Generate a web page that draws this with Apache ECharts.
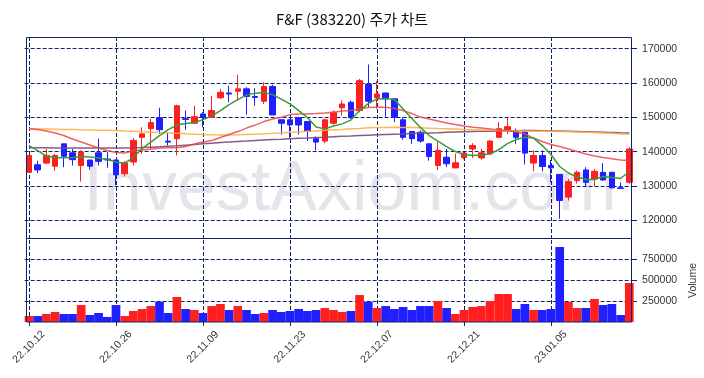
<!DOCTYPE html>
<html>
<head>
<meta charset="utf-8">
<script src="https://cdn.jsdelivr.net/npm/echarts@6/dist/echarts.min.js"></script>
<style>
html, body { margin: 0; padding: 0; background: #fff; }
#chart { width: 704px; height: 378px; }
</style>
</head>
<body>
<div id="chart"></div>
<script>
// 거래일
var dates = ['22.10.12','22.10.13','22.10.14','22.10.17','22.10.18','22.10.19','22.10.20','22.10.21','22.10.24','22.10.25',
    '22.10.26','22.10.27','22.10.28','22.10.31','22.11.01','22.11.02','22.11.03','22.11.04','22.11.07','22.11.08',
    '22.11.09','22.11.10','22.11.11','22.11.14','22.11.15','22.11.16','22.11.17','22.11.18','22.11.21','22.11.22',
    '22.11.23','22.11.24','22.11.25','22.11.28','22.11.29','22.11.30','22.12.01','22.12.02','22.12.05','22.12.06',
    '22.12.07','22.12.08','22.12.09','22.12.12','22.12.13','22.12.14','22.12.15','22.12.16','22.12.19','22.12.20',
    '22.12.21','22.12.22','22.12.23','22.12.26','22.12.27','22.12.28','22.12.29','23.01.02','23.01.03','23.01.04',
    '23.01.05','23.01.06','23.01.09','23.01.10','23.01.11','23.01.12','23.01.13','23.01.16','23.01.17','23.01.18'];
var labelDates = ['22.10.12','22.10.26','22.11.09','22.11.23','22.12.07','22.12.21','23.01.05'];
var priceTicks = [120000, 130000, 140000, 150000, 160000, 170000];
var volTicks = [250000, 500000, 750000];

var openP = [134000,136200,136700,135800,142300,139700,136000,137600,139700,137900,
    137600,133600,137000,144200,146700,149900,143100,143800,149600,148300,
    151000,150000,155700,157100,157600,158300,156100,154700,159000,149300,
    149300,149900,148800,143800,143100,148300,152800,154400,152000,159700,
    155700,157100,155400,149300,145900,145700,142300,136000,138400,135300,
    138300,140800,138200,139400,144200,146400,145700,145700,136700,138900,
    136000,133400,126800,131600,134700,132100,134000,134000,129500,131100];
var closeP = [138900,134700,138900,138900,138700,137700,139900,135800,137200,137600,
    133300,136700,143300,145200,148500,146400,142800,153400,149400,150200,
    150000,152000,157300,156800,158300,156100,155800,159000,150700,148300,
    147800,147800,145900,142800,149300,151500,153900,149900,160700,154700,
    156800,155400,150000,144200,143800,143100,138600,140400,136500,136800,
    139600,141800,139700,143100,146700,147300,144200,139600,138900,135700,
    135300,125800,131300,134000,131100,134300,131800,129500,129300,140800];
var highP = [139000,137400,140800,139400,142300,140800,140400,137600,143800,139900,
    137600,137200,144000,147100,149600,152800,145700,153700,152000,153400,
    151500,156300,158300,159200,162400,158800,158500,160200,159500,149500,
    149600,150200,148800,144400,149600,152000,154900,154900,161200,165400,
    160500,157100,155500,150000,146000,146200,142400,142800,140800,139400,
    140000,142500,140800,143300,148600,149900,146700,146400,140400,140400,
    137600,133400,132100,134500,135500,135000,136700,134200,131100,141300];
var lowP = [134000,133800,136400,134500,135500,136000,131300,134800,136000,135300,
    130200,132800,136000,139400,140800,145200,141800,138900,146400,148100,
    147100,149900,155400,154400,154900,150800,153400,153900,150700,145000,
    143800,145000,143100,140400,142500,147900,150500,149500,151500,152900,
    152500,150200,148600,143500,142300,142600,137400,134700,135500,135300,
    137800,138200,137700,139000,144000,145200,142300,136300,134300,134300,
    131100,120500,125800,130700,129900,129900,131500,129300,129200,130700];
var volume = [71000,71000,95000,119000,95000,95000,202000,83000,107000,60000,
    202000,71000,131000,155000,190000,242000,107000,298000,155000,143000,
    107000,190000,214000,143000,190000,143000,95000,107000,143000,119000,
    131000,155000,131000,143000,167000,143000,119000,131000,321000,242000,
    167000,190000,155000,179000,143000,190000,190000,250000,167000,95000,
    143000,179000,190000,250000,333000,333000,155000,214000,143000,143000,
    155000,893000,238000,167000,167000,274000,202000,214000,83000,464000];

// 이동평균선
var ma5 = [141800,140350,138750,138230,138230,138300,138600,138460,138170,137730,
    137000,136650,138300,140930,142820,144710,146450,147760,148200,148490,
    149360,150380,151980,153720,155170,156480,157060,157210,156630,155320,
    153920,151980,149940,147180,146660,147470,148110,149210,151980,154010,
    155380,155470,155170,152470,149650,147030,144710,143110,141510,140060,
    139190,138900,139040,139390,140640,142380,143550,144210,143980,141800,
    139190,135700,133810,132650,131920,131920,132790,132500,132210,134240];
var ma20 = [146660,146450,146020,145440,144710,143690,142820,141950,141070,140350,
    139770,139620,140260,140490,140700,141070,141130,141130,141510,142240,
    142820,143260,144130,145000,145870,146890,147760,148780,149510,150030,
    150810,151020,151020,151110,151250,151480,151830,151980,152410,152850,
    152940,152940,152560,151980,151110,150090,149510,148920,148340,147910,
    147470,147120,146890,146600,146310,146160,145730,145150,143980,142970,
    142090,141510,140790,140060,139330,138750,138310,137940,137590,137440];
var ma60 = [146660,146630,146600,146570,146510,146450,146390,146340,146280,146220,
    146160,146040,145930,145810,145700,145580,145470,145350,145230,145120,
    145000,144910,144860,144860,144910,145000,145120,145230,145350,145490,
    145640,145780,145930,146070,146220,146370,146510,146660,146800,146950,
    147030,147090,147120,147090,147030,146950,146860,146770,146690,146600,
    146510,146420,146340,146250,146160,146100,146040,146020,145990,145960,
    145930,145870,145810,145760,145670,145580,145470,145350,145200,145060];
var ma120 = [141130,141130,141130,141100,141100,141100,141070,141070,141070,141070,
    141070,141070,141130,141220,141340,141450,141600,141740,141920,142090,
    142300,142500,142670,142820,142970,143110,143260,143400,143550,143660,
    143780,143900,144010,144130,144240,144360,144480,144590,144710,144830,
    144940,145030,145120,145200,145290,145380,145470,145550,145640,145730,
    145810,145870,145930,145990,146040,146100,146130,146160,146160,146130,
    146070,146020,145960,145900,145840,145780,145700,145610,145520,145440];

var upColor = '#ff1f1f';
var downColor = '#1f1fff';
var navy = '#0e2466';
var labelFont = '"Liberation Sans", Arial, sans-serif';

var chart = echarts.init(document.getElementById('chart'));

function showDate(index, value) {
    return labelDates.indexOf(value) >= 0;
}
function plainNum(v) {
    return String(v);
}
var dashLine = { type: [4, 2], color: navy, width: 1 };
var vLines = labelDates.map(function (d) { return { xAxis: d }; });

var candleData = dates.map(function (d, i) {
    return [openP[i], closeP[i], lowP[i], highP[i]];
});

function maSeries(name, data, color, opacity) {
    return {
        name: name, type: 'line', xAxisIndex: 0, yAxisIndex: 0, data: data,
        symbol: 'none', z: 4,
        lineStyle: { color: color, width: 1.5, opacity: opacity }
    };
}

var option = {
    animation: false,
    backgroundColor: '#fff',
    title: {
        text: 'F&F (383220) 주가 차트',
        left: 'center', top: 7,
        textStyle: { fontFamily: '"Noto Sans CJK KR", sans-serif', fontSize: 15, fontWeight: 'normal', color: '#111' }
    },
    graphic: [
        {
            type: 'text', x: 350, y: 191, z: 0, silent: true,
            style: { text: 'InvestAxiom.com', font: '70px "Liberation Sans", Arial, sans-serif', fill: '#e4e4ea', align: 'center', verticalAlign: 'middle' }
        },
        // 차트 테두리
        { type: 'rect', z: 100, silent: true, shape: { x: 26.5, y: 37.5, width: 605, height: 201 }, style: { fill: 'none', stroke: navy, lineWidth: 1 } },
        { type: 'rect', z: 100, silent: true, shape: { x: 26.5, y: 238.5, width: 605, height: 83.5 }, style: { fill: 'none', stroke: navy, lineWidth: 1 } }
    ],
    grid: [
        { left: 24.65, top: 37, width: 609, height: 202, outerBoundsMode: 'none', containLabel: false },
        { left: 24.65, top: 239, width: 609, height: 83, outerBoundsMode: 'none', containLabel: false }
    ],
    xAxis: [
        { type: 'category', gridIndex: 0, data: dates, axisLine: { show: false }, axisTick: { show: false }, axisLabel: { show: false }, splitLine: { show: false } },
        {
            type: 'category', gridIndex: 1, data: dates, axisLine: { show: false },
            axisTick: { show: true, alignWithLabel: true, interval: showDate, length: 4, lineStyle: { color: navy } },
            axisLabel: { interval: showDate, rotate: 45, align: 'center', verticalAlign: 'middle', fontSize: 10.5, color: '#333', margin: 25, fontFamily: labelFont },
            splitLine: { show: false }
        }
    ],
    yAxis: [
        {
            type: 'value', gridIndex: 0, position: 'right', offset: -1.6, min: 114600, max: 173400,
            axisLine: { show: false },
            axisTick: { show: true, customValues: priceTicks, length: 5, lineStyle: { color: navy } },
            axisLabel: { customValues: priceTicks, formatter: plainNum, fontSize: 10.5, color: '#333', margin: 10, fontFamily: labelFont },
            splitLine: { show: false }
        },
        {
            type: 'value', gridIndex: 1, position: 'right', offset: -1.6, min: 0, max: 988000,
            name: 'Volume', nameLocation: 'middle', nameRotate: 90, nameGap: 52,
            nameTextStyle: { fontSize: 10.5, color: '#333', fontFamily: labelFont },
            axisLine: { show: false },
            axisTick: { show: true, customValues: volTicks, length: 5, lineStyle: { color: navy } },
            axisLabel: { customValues: volTicks, formatter: plainNum, fontSize: 10.5, color: '#333', margin: 10, fontFamily: labelFont },
            splitLine: { show: false }
        }
    ],
    series: [
        {
            name: '주가', type: 'candlestick', xAxisIndex: 0, yAxisIndex: 0, data: candleData,
            barWidth: 6, z: 3,
            itemStyle: { color: upColor, color0: downColor, borderColor: upColor, borderColor0: downColor, borderWidth: 1 },
            markLine: {
                silent: true, z: 1, symbol: ['none', 'none'], label: { show: false },
                lineStyle: dashLine, emphasis: { disabled: true },
                data: priceTicks.map(function (v) { return { yAxis: v }; }).concat(vLines)
            }
        },
        maSeries('MA120', ma120, '#7a4a7c', 0.9),
        maSeries('MA60', ma60, '#ffb040', 0.9),
        maSeries('MA20', ma20, '#f04545', 0.85),
        maSeries('MA5', ma5, '#3a9a3a', 1),
        {
            name: 'Volume', type: 'bar', xAxisIndex: 1, yAxisIndex: 1, data: volume,
            barCategoryGap: '0%', z: 3,
            itemStyle: {
                color: function (p) { return closeP[p.dataIndex] >= openP[p.dataIndex] ? upColor : downColor; }
            },
            markLine: {
                silent: true, z: 1, symbol: ['none', 'none'], label: { show: false },
                lineStyle: dashLine, emphasis: { disabled: true },
                data: volTicks.map(function (v) { return { yAxis: v }; }).concat(vLines)
            }
        }
    ]
};

chart.setOption(option);
</script>
</body>
</html>
